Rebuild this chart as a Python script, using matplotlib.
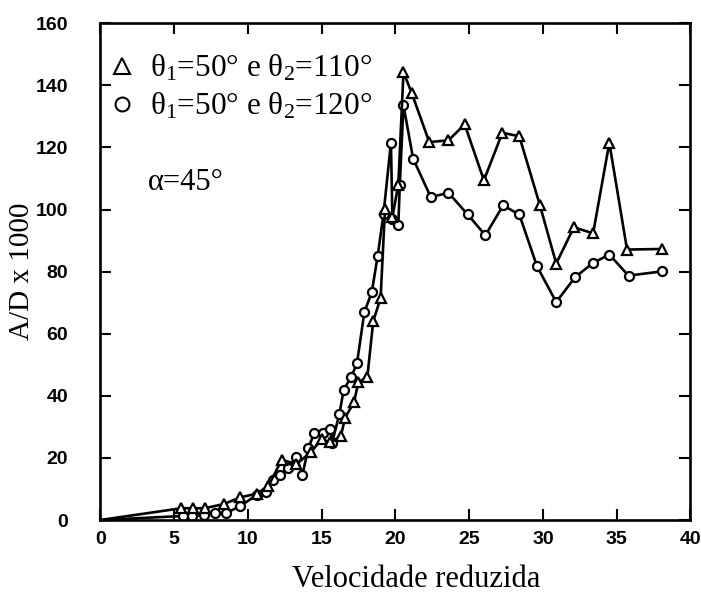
import matplotlib
matplotlib.use("Agg")
import matplotlib.pyplot as plt
from matplotlib.lines import Line2D

plt.rcParams['mathtext.fontset'] = 'custom'
plt.rcParams['mathtext.rm'] = 'Liberation Serif'
plt.rcParams['mathtext.it'] = 'Liberation Serif:italic'

# theta1 = 50 deg, theta2 = 110 deg (triangles)
tri_x = [0, 5.5, 6.3, 7.1, 8.4, 9.5, 10.6, 11.4, 12.3, 13.3, 14.3, 15.0, 15.6,
         16.3, 16.6, 17.2, 17.5, 18.1, 18.5, 19.0, 19.3, 19.8, 20.2, 20.55,
         21.1, 22.3, 23.6, 24.7, 26.0, 27.25, 28.4, 29.8, 30.9, 32.1, 33.4,
         34.5, 35.7, 38.1]
tri_y = [0, 3.8, 3.8, 3.8, 5.2, 7.3, 8.5, 11.0, 19.4, 18.0, 22.0, 26.0, 25.0,
         27.0, 33.0, 38.0, 44.5, 46.0, 64.0, 71.5, 100.3, 97.5, 108.0, 144.3,
         137.6, 121.7, 122.3, 127.4, 109.4, 124.7, 123.6, 101.3, 82.6, 94.3,
         92.3, 121.5, 87.1, 87.3]

# theta1 = 50 deg, theta2 = 120 deg (circles)
cir_x = [0, 5.6, 6.2, 7.0, 7.8, 8.5, 9.5, 10.6, 11.2, 11.7, 12.2, 12.7, 13.3,
         13.7, 14.1, 14.5, 15.1, 15.6, 15.7, 16.2, 16.5, 17.0, 17.4, 17.9,
         18.4, 18.8, 19.2, 19.7, 19.8, 20.2, 20.3, 20.55, 21.2, 22.4, 23.6,
         24.9, 26.1, 27.3, 28.4, 29.6, 30.9, 32.2, 33.4, 34.5, 35.8, 38.1]
cir_y = [0, 1.3, 1.3, 1.6, 2.4, 2.2, 4.5, 8.1, 9.1, 12.9, 14.5, 16.7, 20.4,
         14.5, 23.1, 28.0, 28.0, 29.4, 24.7, 34.0, 42.0, 46.0, 50.5, 67.0,
         73.3, 85.0, 98.7, 121.5, 97.0, 95.0, 108.0, 133.6, 116.4, 104.0,
         105.4, 98.4, 91.7, 101.3, 98.4, 81.7, 70.2, 78.3, 82.8, 85.5, 78.7,
         80.1]

labels = [r'θ$_1$=50° e θ$_2$=110°', r'θ$_1$=50° e θ$_2$=120°']

fig = plt.figure(figsize=(7.01, 5.95), dpi=100)
ax = fig.add_axes([0.143, 0.126, 0.842, 0.835])

style = dict(color='black', lw=1.9, mfc='white', mec='black', mew=1.6,
             markevery=slice(1, None))
ax.plot(cir_x, cir_y, marker='o', ms=6.5, **style)
ax.plot(tri_x, tri_y, marker='^', ms=6.5, **style)

ax.set_xlim(0, 40)
ax.set_ylim(0, 160)
ax.set_xticks(range(0, 41, 5))
ax.set_yticks(range(0, 161, 20))
ax.tick_params(direction='in', top=True, right=True, length=8, width=1.5,
               labelsize=14)
ax.tick_params(axis='y', pad=23)
ax.tick_params(axis='x', pad=8)
for lab in ax.get_xticklabels() + ax.get_yticklabels():
    lab.set_fontfamily('Liberation Sans')
    lab.set_fontweight('bold')
for sp in ax.spines.values():
    sp.set_linewidth(1.9)

ax.set_ylabel('A/D x 1000', family='Liberation Serif', fontsize=21)
ax.yaxis.set_label_coords(-0.11, 0.5)
ax.set_xlabel('Velocidade reduzida', family='Liberation Serif', fontsize=22)
ax.xaxis.set_label_coords(0.535, -0.09)

handles = [Line2D([], [], ls='none', marker='^', ms=12, mfc='white',
                  mec='black', mew=1.5),
           Line2D([], [], ls='none', marker='o', ms=10, mfc='white',
                  mec='black', mew=1.5)]
ax.legend(handles, labels, loc='upper left', bbox_to_anchor=(-0.038, 0.99),
          frameon=False, handlelength=1.2, handletextpad=0.3,
          labelspacing=0.25, borderpad=0.3,
          prop={'family': 'Liberation Serif', 'size': 22.5})

ax.text(0.08, 0.68, 'α=45°', transform=ax.transAxes, va='center',
        family='Liberation Serif', fontsize=22)

fig.savefig('out.png', dpi=100)
